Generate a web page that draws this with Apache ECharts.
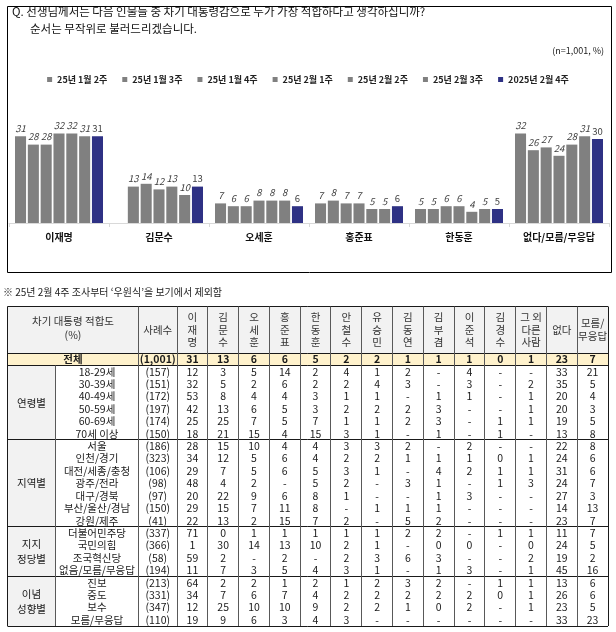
<!DOCTYPE html>
<html><head><meta charset="utf-8">
<script src="https://cdn.jsdelivr.net/npm/echarts@6/dist/echarts.min.js"></script>
<style>html,body{margin:0;padding:0;background:#fff}#c{width:616px;height:632px}</style>
</head><body><div id="c"></div>
<script>
const FONT = '"Noto Sans CJK KR", "Noto Sans", sans-serif';

// ---- bar chart data ----
const candidates = ['이재명', '김문수', '오세훈', '홍준표', '한동훈', '없다/모름/무응답'];
const weeks = ['25년 1월 2주', '25년 1월 3주', '25년 1월 4주', '25년 2월 1주', '25년 2월 2주', '25년 2월 3주', '2025년 2월 4주'];
const wk1 = [31, null, 7, 7, 5, 32];
const wk2 = [28, 13, 6, 8, 5, 26];
const wk3 = [28, 14, 6, 7, 6, 27];
const wk4 = [32, 12, 8, 7, 6, 24];
const wk5 = [32, 13, 8, 5, 4, 28];
const wk6 = [31, 10, 8, 5, 5, 31];
const wk7 = [31, 13, 6, 6, 5, 30];
const weekData = [wk1, wk2, wk3, wk4, wk5, wk6, wk7];

// ---- table data ----
const tableCols = ['이재명', '김문수', '오세훈', '홍준표', '한동훈', '안철수', '유승민', '김동연', '김부겸', '이준석', '김경수', '그 외 다른 사람', '없다', '모름/무응답'];
const tableColLabels = ['이\n재\n명', '김\n문\n수', '오\n세\n훈', '홍\n준\n표', '한\n동\n훈', '안\n철\n수', '유\n승\n민', '김\n동\n연', '김\n부\n겸', '이\n준\n석', '김\n경\n수', '그 외\n다른\n사람', '없다', '모름/\n무응답'];
const totalRow = ['전체', '(1,001)', '31', '13', '6', '6', '5', '2', '2', '1', '1', '1', '0', '1', '23', '7'];
const ageRows = [
  ['18-29세', '(157)', '12', '3', '5', '14', '2', '4', '1', '2', '-', '4', '-', '-', '33', '21'],
  ['30-39세', '(151)', '32', '5', '2', '6', '2', '2', '4', '3', '-', '3', '-', '2', '35', '5'],
  ['40-49세', '(172)', '53', '8', '4', '4', '3', '1', '1', '-', '1', '1', '-', '1', '20', '4'],
  ['50-59세', '(197)', '42', '13', '6', '5', '3', '2', '2', '2', '3', '-', '-', '1', '20', '3'],
  ['60-69세', '(174)', '25', '25', '7', '5', '7', '1', '1', '2', '3', '-', '1', '1', '19', '5'],
  ['70세 이상', '(150)', '18', '21', '15', '4', '15', '3', '1', '-', '1', '-', '1', '-', '13', '8']
];
const regionRows = [
  ['서울', '(186)', '28', '15', '10', '4', '4', '3', '3', '2', '-', '2', '-', '-', '22', '8'],
  ['인천/경기', '(323)', '34', '12', '5', '6', '4', '2', '2', '1', '1', '1', '0', '1', '24', '6'],
  ['대전/세종/충청', '(106)', '29', '7', '5', '6', '5', '3', '1', '-', '4', '2', '1', '1', '31', '6'],
  ['광주/전라', '(98)', '48', '4', '2', '-', '5', '2', '-', '3', '1', '-', '1', '3', '24', '7'],
  ['대구/경북', '(97)', '20', '22', '9', '6', '8', '1', '-', '-', '1', '3', '-', '-', '27', '3'],
  ['부산/울산/경남', '(150)', '29', '15', '7', '11', '8', '-', '1', '1', '1', '-', '-', '-', '14', '13'],
  ['강원/제주', '(41)', '22', '13', '2', '15', '7', '2', '-', '5', '2', '-', '-', '-', '23', '7']
];
const partyRows = [
  ['더불어민주당', '(337)', '71', '0', '1', '1', '1', '1', '1', '2', '2', '-', '1', '1', '11', '7'],
  ['국민의힘', '(366)', '1', '30', '14', '13', '10', '2', '1', '-', '0', '0', '-', '0', '24', '5'],
  ['조국혁신당', '(58)', '59', '2', '-', '2', '-', '2', '3', '6', '3', '-', '-', '2', '19', '2'],
  ['없음/모름/무응답', '(194)', '11', '7', '3', '5', '4', '3', '1', '-', '1', '3', '-', '1', '45', '16']
];
const ideoRows = [
  ['진보', '(213)', '64', '2', '2', '1', '2', '1', '2', '3', '2', '-', '1', '1', '13', '6'],
  ['중도', '(331)', '34', '7', '6', '7', '4', '2', '2', '2', '2', '2', '0', '1', '26', '6'],
  ['보수', '(347)', '12', '25', '10', '10', '9', '2', '2', '1', '0', '2', '-', '1', '23', '5'],
  ['모름/무응답', '(110)', '19', '9', '6', '3', '4', '3', '-', '-', '-', '-', '-', '-', '33', '23']
];
const groupLabels = ['연령별', '지역별', '지지\n정당별', '이념\n성향별'];
const groupRows = [ageRows, regionRows, partyRows, ideoRows];

const bodyRows = [totalRow].concat(ageRows, regionRows, partyRows, ideoRows);
const rowNames = bodyRows.map(r => r[0]);

// ---- layout (style) ----
const TBL_L = 7.5, GROUP_R = 55.5, SUB_R = 138.5, HEAD_T = 306.5;
const TXT = '#1a1a1a';

function px(v) { return Math.round(v - 0.5) + 0.5; }

const chart = echarts.init(document.getElementById('c'));

const barSeries = weekData.map((d, i) => ({
  name: weeks[i], type: 'bar', xAxisIndex: 0, yAxisIndex: 0, data: d,
  barGap: '16%', barCategoryGap: '12%',
  itemStyle: { color: i === 6 ? '#2e3184' : '#808080' },
  label: { show: true, position: 'top', distance: 3, fontSize: 9.5, fontFamily: FONT,
    fontStyle: i === 6 ? 'normal' : 'italic', color: '#404040' },
  emphasis: { disabled: true }
}));

const frameSeries = {
  type: 'custom', xAxisIndex: 1, yAxisIndex: 1, data: [[0, 0]], z: 1, silent: true,
  renderItem: function (params, api) {
    const cs = params.coordSys;
    const sz = api.size([1, 1]);
    const cw = sz[0], rh = sz[1];
    const L = TBL_L, R = cs.x + cs.width, T = HEAD_T, G = cs.y, B = cs.y + cs.height;
    const ch = [];
    ch.push({ type: 'rect', shape: { x: L, y: T, width: R - L, height: G - T }, style: { fill: '#f2f2f2' } });
    ch.push({ type: 'rect', shape: { x: L, y: G, width: R - L, height: rh }, style: { fill: '#fff2cc' } });
    ch.push({ type: 'rect', shape: { x: L, y: G + rh, width: GROUP_R - L, height: B - G - rh }, style: { fill: '#f2f2f2' } });
    const hl = (y, c) => ch.push({ type: 'line', shape: { x1: L, y1: px(y), x2: R, y2: px(y) }, style: { stroke: c || '#1a1a1a', lineWidth: 1 } });
    const vl = (x, y1, y2, c) => ch.push({ type: 'line', shape: { x1: px(x), y1: y1, x2: px(x), y2: y2 }, style: { stroke: c || '#595959', lineWidth: 1 } });
    hl(T); hl(G); hl(G + rh);
    let cum = 1;
    const starts = [];
    groupRows.forEach(g => { starts.push(cum); cum += g.length; hl(G + rh * cum); });
    vl(L, T, B, '#1a1a1a');
    vl(GROUP_R, G + rh, B);
    vl(SUB_R, T, B);
    for (let k = 0; k <= tableCols.length; k++) vl(cs.x + cw * k, T, B, k === tableCols.length ? '#1a1a1a' : '#595959');
    const hs = { fill: '#333', fontSize: 10.5, fontFamily: FONT, align: 'center', verticalAlign: 'middle', lineHeight: 12.5 };
    const midH = (T + G) / 2;
    ch.push({ type: 'text', style: Object.assign({}, hs, { text: '차기 대통령 적합도\n(%)', x: (L + SUB_R) / 2, y: midH - 2, lineHeight: 14 }) });
    ch.push({ type: 'text', style: Object.assign({}, hs, { text: '사례수', x: (SUB_R + cs.x) / 2, y: midH }) });
    tableColLabels.forEach((t, k) => {
      ch.push({ type: 'text', style: Object.assign({}, hs, { text: t, x: cs.x + cw * (k + 0.5), y: midH }) });
    });
    groupLabels.forEach((t, gi) => {
      const n = groupRows[gi].length;
      ch.push({ type: 'text', style: Object.assign({}, hs, { text: t, fill: TXT, x: (L + GROUP_R) / 2, y: G + rh * (starts[gi] + n / 2), lineHeight: 15 }) });
    });
    return { type: 'group', children: ch };
  }
};

const tableSeries = {
  type: 'custom', xAxisIndex: 1, yAxisIndex: 1, z: 2, silent: true,
  data: bodyRows.map((r, i) => [0, i]),
  renderItem: function (params, api) {
    const r = api.value(1);
    const row = bodyRows[r];
    const cs = params.coordSys;
    const y = api.coord([0, r])[1];
    const bold = r === 0;
    const base = { fill: TXT, fontSize: 10.5, fontFamily: FONT, fontWeight: bold ? 'bold' : 'normal', align: 'center', verticalAlign: 'middle' };
    const ch = [];
    const labelX = r === 0 ? (TBL_L + SUB_R) / 2 : (GROUP_R + SUB_R) / 2;
    ch.push({ type: 'text', style: Object.assign({}, base, { text: row[0], x: labelX, y: y }) });
    ch.push({ type: 'text', style: Object.assign({}, base, { text: row[1], x: (SUB_R + cs.x) / 2, y: y }) });
    for (let c = 0; c < tableCols.length; c++) {
      const x = api.coord([c, r])[0];
      ch.push({ type: 'text', style: Object.assign({}, base, { text: row[c + 2], x: x, y: y }) });
    }
    return { type: 'group', children: ch };
  }
};

chart.setOption({
  animation: false,
  textStyle: { fontFamily: FONT },
  legend: {
    data: weeks, left: 'center', top: 70, icon: 'rect', itemWidth: 5, itemHeight: 5, itemGap: 15,
    textStyle: { fontSize: 9, fontWeight: 'bold', color: '#222', fontFamily: FONT },
    selectedMode: false
  },
  grid: [
    { left: 9, right: 7, top: 111, height: 112 },
    { left: 177, right: 8, top: 353, bottom: 6 }
  ],
  xAxis: [
    { type: 'category', gridIndex: 0, data: candidates,
      axisLine: { lineStyle: { color: '#d9d9d9' } },
      axisTick: { show: true, length: 4, lineStyle: { color: '#d9d9d9' } },
      axisLabel: { fontSize: 10, fontWeight: 'bold', color: '#111', margin: 9, fontFamily: FONT } },
    { type: 'category', gridIndex: 1, data: tableCols, show: false }
  ],
  yAxis: [
    { type: 'value', gridIndex: 0, min: 0, max: 40, show: false },
    { type: 'category', gridIndex: 1, data: rowNames, inverse: true, show: false }
  ],
  graphic: [
    { type: 'rect', shape: { x: 7.5, y: 6.5, width: 604, height: 266 }, style: { fill: 'none', stroke: '#000', lineWidth: 1 }, z: 0 },
    { type: 'text', left: 12, top: 6, style: { text: 'Q. 선생님께서는 다음 인물들 중 차기 대통령감으로 누가 가장 적합하다고 생각하십니까?', fontSize: 11.5, fontFamily: FONT, fill: '#111' } },
    { type: 'text', left: 30, top: 23, style: { text: '순서는 무작위로 불러드리겠습니다.', fontSize: 11.5, fontFamily: FONT, fill: '#111' } },
    { type: 'text', right: 12, top: 46, style: { text: '(n=1,001, %)', fontSize: 9, fontFamily: FONT, fill: '#222' } },
    { type: 'text', left: 3, top: 287, style: { text: '※ 25년 2월 4주 조사부터 \u2018우원식\u2019을 보기에서 제외함', fontSize: 10, fontFamily: FONT, fill: '#222' } }
  ],
  series: barSeries.concat([frameSeries, tableSeries])
});
</script>
</body></html>
